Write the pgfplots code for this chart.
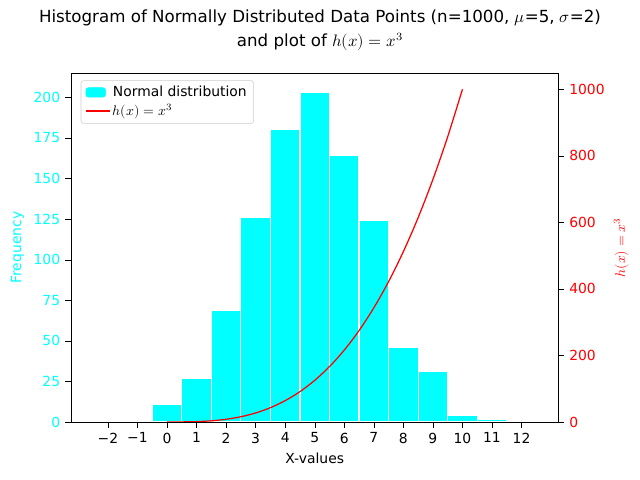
\documentclass[border=0pt]{standalone}
\usepackage{pgfplots}
\pgfplotsset{compat=1.18}
\usepackage{fontspec}
\setmainfont{DejaVu Sans}
\usepackage{unicode-math}
\setmathfont{Latin Modern Math}
\definecolor{aqua}{RGB}{0,255,255}
\begin{document}
\begin{tikzpicture}[x=1pt,y=1pt]
\useasboundingbox (-51.1pt,-41.8pt) rectangle (409.7pt,303.8pt);
\pgfplotsset{every axis/.style={font=\fontsize{10}{12}\selectfont}}
\begin{axis}[at={(0,0)},anchor=south west,scale only axis,width=351pt,height=251pt,
  xmin=-3.25,xmax=13.25,ymin=0,ymax=214.8,
  xtick={-2,...,12},ytick={0,25,...,200},
  xticklabels={−2,−1,0,1,2,3,4,5,6,7,8,9,10,11,12},
  ytick pos=left, xtick pos=bottom,
  /pgf/number format/assume math mode=true,
  yticklabel style={text=aqua},
  tick align=outside, tick style={black},
  xlabel={X-values}, ylabel={Frequency}, ylabel style={text=aqua},
  ]
\addplot[ybar interval, fill=aqua, draw=white, line width=0.8pt] coordinates {
(-2.5,1) (-1.5,1) (-0.5,11) (0.5,27) (1.5,69) (2.5,126) (3.5,180) (4.5,203) (5.5,164) (6.5,124) (7.5,46) (8.5,31) (9.5,4) (10.5,1.5) (11.5,0) (12.5,0)};
\end{axis}
\begin{axis}[at={(0,0)},anchor=south west,scale only axis,width=351pt,height=251pt,
  xmin=-3.25,xmax=13.25,ymin=0,ymax=1048,
  axis y line*=right, axis x line=none,
  ytick={0,200,...,1000}, yticklabel style={text=red}, ytick style={black},
  tick align=outside,
  /pgf/number format/assume math mode=true, /pgf/number format/1000 sep={},
  ylabel={$h(x)=x^3$}, ylabel style={text=red},
  legend style={at={(0.02,0.98)},anchor=north west,draw=black!20,rounded corners=2pt,font=\fontsize{10}{12}\selectfont,cells={anchor=west}},
  legend cell align=left]
\addlegendimage{legend image code/.code={\fill[aqua] (0cm,-0.12cm) rectangle (0.5cm,0.12cm);}}
\addlegendentry{Normal distribution}
\addplot[red, line width=0.9pt, smooth] coordinates {
(0,0) (0.5,0.125) (1,1) (1.5,3.375) (2,8) (2.5,15.625) (3,27) (3.5,42.875) (4,64) (4.5,91.125) (5,125) (5.5,166.375) (6,216) (6.5,274.625) (7,343) (7.5,421.875) (8,512) (8.5,614.125) (9,729) (9.5,857.375) (10,1000)};
\addlegendentry{$h(x)=x^3$}
\end{axis}
\node[font=\fontsize{12}{14}\selectfont] at (179.3pt,290.9pt) {Histogram of Normally Distributed Data Points (n=1000, $\mu$=5, $\sigma$=2)};
\node[font=\fontsize{12}{14}\selectfont] at (179.3pt,273.6pt) {and plot of $h(x)=x^3$};
\end{tikzpicture}
\end{document}
